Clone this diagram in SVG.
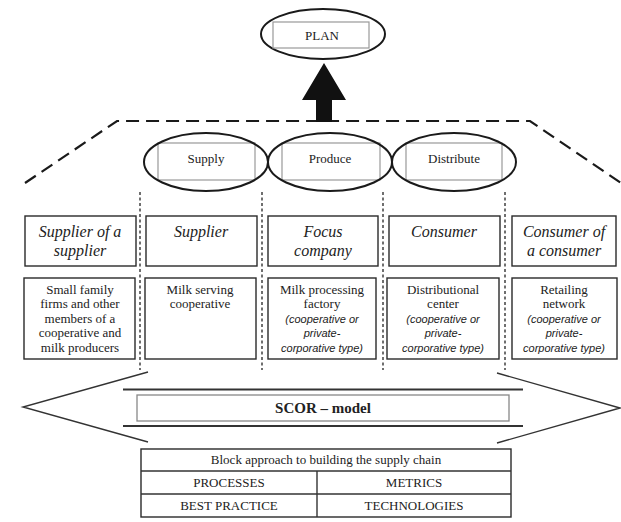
<svg xmlns="http://www.w3.org/2000/svg" width="621" height="522" viewBox="0 0 621 522">
<style>
.bg{fill:#fff}
.box{fill:#fff;stroke:#2a2a2a;stroke-width:1.4}
.inner{fill:#fff;stroke:#999;stroke-width:1.2}
.ell{fill:none;stroke:#1a1a1a;stroke-width:2}
.dash{fill:none;stroke:#1a1a1a;stroke-width:2.2;stroke-dasharray:13 7}
.dot{fill:none;stroke:#333;stroke-width:1.4;stroke-dasharray:3 2.5}
.ln{fill:none;stroke:#333;stroke-width:1.4}
.t{font-family:"Liberation Serif","Times New Roman",serif;font-size:13px;fill:#222;text-anchor:middle}
.ti{font-family:"Liberation Serif","Times New Roman",serif;font-style:italic;font-size:16px;fill:#222;text-anchor:middle}
.si{font-family:"Liberation Sans",Arial,sans-serif;font-style:italic;font-size:11px;fill:#222;text-anchor:middle}
.b{font-weight:bold;font-size:15px}
</style>
<rect class="bg" x="0" y="0" width="621" height="522"/>
<g id="connectors">
<path class="dash" d="M25,183 L117,121 L530,121 L621,183"/>
<path d="M316,122 L316,100 L302,100 L324,63 L346,100 L332,100 L332,122 Z" fill="#111"/>
<line class="dot" x1="140" y1="192" x2="140" y2="370"/>
<line class="dot" x1="262" y1="192" x2="262" y2="370"/>
<line class="dot" x1="383" y1="192" x2="383" y2="370"/>
<line class="dot" x1="505" y1="192" x2="505" y2="370"/>
</g>
<g id="plan">
<ellipse class="ell" cx="323" cy="34" rx="62" ry="25"/>
<rect class="inner" x="273" y="22" width="96" height="26"/>
<text class="t" x="322" y="40">PLAN</text>
</g>
<g id="supply">
<rect class="inner" x="158" y="143" width="97" height="37"/>
<ellipse class="ell" cx="206" cy="162" rx="62" ry="29"/>
<text class="t" x="206" y="163">Supply</text>
</g>
<g id="produce">
<rect class="inner" x="282" y="143" width="98" height="37"/>
<ellipse class="ell" cx="330" cy="162" rx="62" ry="29"/>
<text class="t" x="330" y="163">Produce</text>
</g>
<g id="distribute">
<rect class="inner" x="406" y="143" width="96" height="37"/>
<ellipse class="ell" cx="454" cy="162" rx="62" ry="29"/>
<text class="t" x="454" y="163">Distribute</text>
</g>
<g id="supplier-of-supplier">
<rect class="box" x="25" y="216" width="111" height="50"/>
<text class="ti" x="80" y="237">Supplier of a</text>
<text class="ti" x="80" y="256">supplier</text>
</g>
<g id="supplier">
<rect class="box" x="146" y="216" width="111" height="50"/>
<text class="ti" x="201" y="237">Supplier</text>
</g>
<g id="focus-company">
<rect class="box" x="268" y="216" width="110" height="50"/>
<text class="ti" x="323" y="237">Focus</text>
<text class="ti" x="323" y="256">company</text>
</g>
<g id="consumer">
<rect class="box" x="389" y="216" width="111" height="50"/>
<text class="ti" x="444" y="237">Consumer</text>
</g>
<g id="consumer-of-consumer">
<rect class="box" x="512" y="216" width="104" height="50"/>
<text class="ti" x="564" y="237">Consumer of</text>
<text class="ti" x="564" y="256">a consumer</text>
</g>
<g id="small-family-firms">
<rect class="box" x="24" y="278" width="111" height="81"/>
<text class="t" x="80" y="294">Small family</text>
<text class="t" x="80" y="308">firms and other</text>
<text class="t" x="80" y="323">members of a</text>
<text class="t" x="80" y="337">cooperative and</text>
<text class="t" x="80" y="352">milk producers</text>
</g>
<g id="milk-serving">
<rect class="box" x="145" y="278" width="111" height="81"/>
<text class="t" x="200" y="294">Milk serving</text>
<text class="t" x="200" y="308">cooperative</text>
</g>
<g id="milk-processing">
<rect class="box" x="268" y="278" width="108" height="81"/>
<text class="t" x="322" y="294">Milk processing</text>
<text class="t" x="322" y="308">factory</text>
<text class="si" x="322" y="323">(cooperative or</text>
<text class="si" x="322" y="337">private-</text>
<text class="si" x="322" y="352">corporative type)</text>
</g>
<g id="distributional-center">
<rect class="box" x="387" y="278" width="112" height="81"/>
<text class="t" x="443" y="294">Distributional</text>
<text class="t" x="443" y="308">center</text>
<text class="si" x="443" y="323">(cooperative or</text>
<text class="si" x="443" y="337">private-</text>
<text class="si" x="443" y="352">corporative type)</text>
</g>
<g id="retailing-network">
<rect class="box" x="512" y="278" width="105" height="81"/>
<text class="t" x="564" y="294">Retailing</text>
<text class="t" x="564" y="308">network</text>
<text class="si" x="564" y="323">(cooperative or</text>
<text class="si" x="564" y="337">private-</text>
<text class="si" x="564" y="352">corporative type)</text>
</g>
<g id="scor-model">
<path class="ln" d="M148,372 L23,407 L148,442"/>
<path class="ln" d="M497,373 L620,408 L497,443"/>
<line x1="123" y1="389.5" x2="523" y2="389.5" stroke="#333" stroke-width="2"/>
<line x1="123" y1="426" x2="523" y2="426" stroke="#333" stroke-width="2"/>
<rect x="137" y="395" width="372" height="26" fill="#fff" stroke="#888" stroke-width="1.3"/>
<text class="t b" x="323" y="413">SCOR – model</text>
</g>
<g id="block-approach">
<rect class="box" x="141" y="449" width="370" height="68"/>
<line class="ln" x1="141" y1="471" x2="511" y2="471"/>
<line class="ln" x1="141" y1="494" x2="511" y2="494"/>
<line class="ln" x1="317" y1="471" x2="317" y2="517"/>
<text class="t" x="326" y="464">Block approach to building the supply chain</text>
<text class="t" x="229" y="487">PROCESSES</text>
<text class="t" x="414" y="487">METRICS</text>
<text class="t" x="229" y="510">BEST PRACTICE</text>
<text class="t" x="414" y="510">TECHNOLOGIES</text>
</g>
</svg>
